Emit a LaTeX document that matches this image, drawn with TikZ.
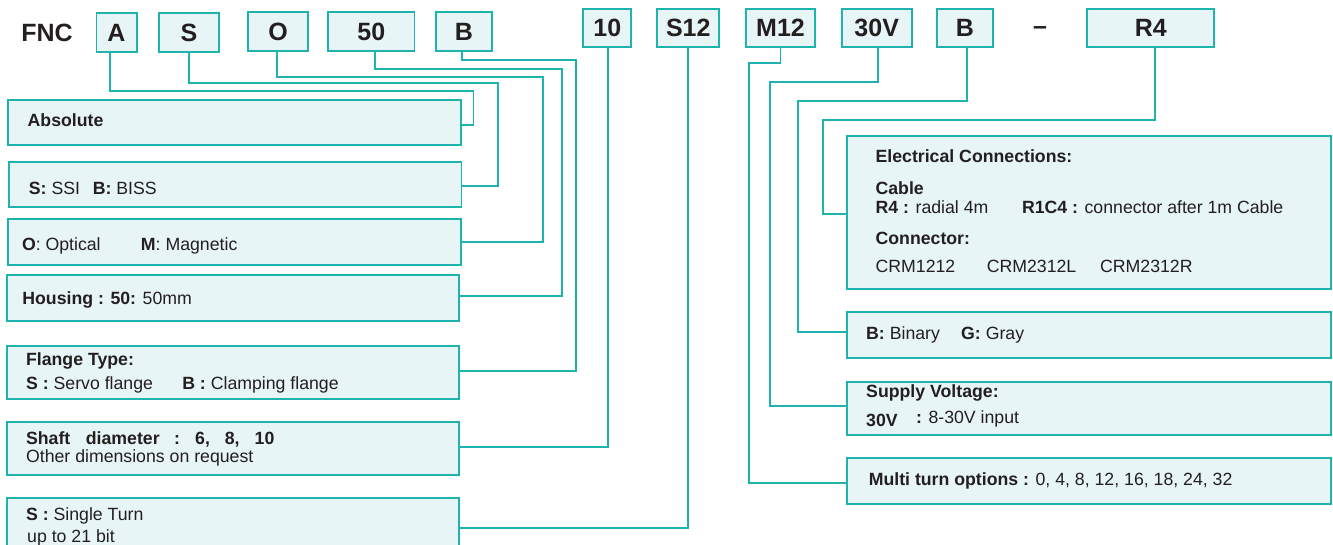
\documentclass[tikz,border=0pt]{standalone}
\usepackage{fontspec}
\setmainfont{Liberation Sans}
\usetikzlibrary{fit}
\definecolor{teal1}{RGB}{31,179,173}
\definecolor{boxfill}{RGB}{232,245,247}
\definecolor{ink}{RGB}{35,31,32}
\begin{document}
\begin{tikzpicture}[x=1pt,y=-1pt,
  box/.style={draw=teal1, fill=boxfill, line width=1.8pt, inner sep=0pt, outer sep=0pt},
  conn/.style={draw=teal1, line width=1.8pt},
  txt/.style={anchor=base west, inner sep=0pt, text=ink, font=\fontsize{17.7}{21}\selectfont},
  toplab/.style={text=ink, inner sep=0pt, font=\fontsize{25}{30}\selectfont\bfseries},
]
\useasboundingbox (0,0) rectangle (1333,545);
\clip (0,0) rectangle (1333,545);

% ---- top code boxes ----
\node[toplab] (fnc) at (47,33) {FNC};
\node[box, fit={(96.4,13.3) (136.6,51.7)}, label={[toplab]center:A}] (nA) {};
\node[box, fit={(158.8,13) (218.9,52)}, label={[toplab]center:S}] (nS) {};
\node[box, fit={(248,12.3) (308,50.7)}, label={[toplab]center:O}] (nO) {};
\node[box, fit={(328,12.3) (414.5,50.7)}, label={[toplab]center:50}] (n50) {};
\node[box, fit={(436,12.3) (492,50.7)}, label={[toplab]center:B}] (nB) {};
\node[box, fit={(583.3,9) (631.3,46.7)}, label={[toplab]center:10}] (n10) {};
\node[box, fit={(657.3,9) (719.3,46.7)}, label={[toplab]center:S12}] (nS12) {};
\node[box, fit={(745.7,9) (815.3,46.7)}, label={[toplab]center:M12}] (nM12) {};
\node[box, fit={(841.7,9) (911.7,46.7)}, label={[toplab]center:30V}] (n30V) {};
\node[box, fit={(937.3,9) (992.7,46.7)}, label={[toplab]center:B}] (nB2) {};
\node[toplab] (dash) at (1040,30.5) {–};
\node[box, fit={(1087.3,9) (1214.3,46.7)}, label={[toplab]center:R4}] (nR4) {};

% ---- left description boxes ----
\node[box, fit={(7.7,100) (460.8,145.3)}] (dAbs) {};
\node[box, fit={(8.8,161.7) (461.5,207.3)}] (dSSI) {};
\node[box, fit={(7.7,219.3) (460.8,265)}] (dOpt) {};
\node[box, fit={(7,275.3) (459,321)}] (dHous) {};
\node[box, fit={(6.7,346) (459,399)}] (dFlange) {};
\node[box, fit={(6.7,421.7) (459,475)}] (dShaft) {};
\node[box, fit={(6.7,497.7) (459,557.7)}] (dSingle) {};

% ---- right description boxes ----
\node[box, fit={(846.7,135.7) (1330.8,289)}] (dElec) {};
\node[box, fit={(846.7,312.3) (1330.8,357.7)}] (dBin) {};
\node[box, fit={(846.7,382) (1330.8,435)}] (dSupply) {};
\node[box, fit={(846.7,458.3) (1330.8,504)}] (dMulti) {};

% ---- connectors ----
\draw[conn] ([xshift=-6.5pt]nA.south) |- (473.4,90.7) |- ([yshift=-2.35pt]dAbs.east);
\draw[conn] (nS.south) |- (498.3,82.7) |- ([yshift=-1.8pt]dSSI.east);
\draw[conn] ([xshift=-1pt]nO.south) |- (542.7,77.3) |- (dOpt.east);
\draw[conn] ([xshift=3.75pt]n50.south) |- (561.8,68.7) |- ([yshift=2.45pt]dHous.east);
\draw[conn] ([xshift=-1.7pt]nB.south) |- (576,60) |- ([yshift=1.8pt]dFlange.east);
\draw[conn] ([xshift=1pt]n10.south) |- ([yshift=1.65pt]dShaft.east);
\draw[conn] ([xshift=-0.6pt]nS12.south) |- (dSingle.east);
\draw[conn] (nM12.south) |- (749,63.3) |- ([yshift=-2.15pt]dMulti.west);
\draw[conn] ([xshift=1pt]n30V.south) |- (770.3,82.3) |- ([yshift=2.8pt]dSupply.west);
\draw[conn] ([xshift=1.7pt]nB2.south) |- (797.9,100.7) |- ([yshift=2.7pt]dBin.west);
\draw[conn] ([xshift=3.9pt]nR4.south) |- (823.2,120) |- ([yshift=-1.65pt]dElec.west);

% ---- left texts ----
\node[txt] (t1) at (27.5,126.8) {\textbf{Absolute}};
\node[txt] (t2) at (28.7,194.2) {\makebox[63.9pt][l]{\textbf{S:} SSI}\textbf{B:} BISS};
\node[txt] (t3) at (21.8,250.6) {\makebox[119pt][l]{\textbf{O}: Optical}\textbf{M}: Magnetic};
\node[txt] (t4) at (22.2,304.4) {\textbf{Housing : 50:} 50mm};
\node[txt] (t5) at (25.9,365.2) {\textbf{Flange Type:}};
\node[txt] (t6) at (25.9,389.4) {\makebox[156.2pt][l]{\textbf{S :} Servo flange}\textbf{B :} Clamping flange};
\node[txt] (t7) at (25.9,444.2) {\bfseries\makebox[59.8pt][l]{Shaft}\makebox[88.3pt][l]{diameter}\makebox[21pt][l]{:}\makebox[29.6pt][l]{6,}\makebox[29.9pt][l]{8,}10};
\node[txt] (t8) at (25.9,462.7) {Other dimensions on request};
\node[txt] (t9) at (25.9,520) {\textbf{S :} Single Turn};
\node[txt] (t10) at (27,542.2) {up to 21 bit};

% ---- right texts ----
\node[txt] (e1) at (875.4,162.8) {\textbf{Electrical Connections:}};
\node[txt] (e2) at (875.4,194.3) {\textbf{Cable}};
\node[txt] (e3) at (875.4,213.5) {\makebox[146.4pt][l]{\textbf{R4 :} radial 4m}\textbf{R1C4 :} connector after 1m Cable};
\node[txt] (e4) at (875.4,244.2) {\textbf{Connector:}};
\node[txt] (e5) at (875.4,272.5) {\makebox[111.2pt][l]{CRM1212}\makebox[113.4pt][l]{CRM2312L}CRM2312R};
\node[txt] (b1) at (866,339.2) {\makebox[95pt][l]{\textbf{B:} Binary}\textbf{G:} Gray};
\node[txt] (s1) at (866,397.9) {\textbf{Supply Voltage:}};
\node[txt] (s2) at (866,426.8) {\textbf{30V}};
\node[txt] (s3) at (915.9,423.4) {\textbf{:} 8-30V input};
\node[txt] (m1) at (868.6,485.1) {\textbf{Multi turn options :} 0, 4, 8, 12, 16, 18, 24, 32};
\end{tikzpicture}
\end{document}
